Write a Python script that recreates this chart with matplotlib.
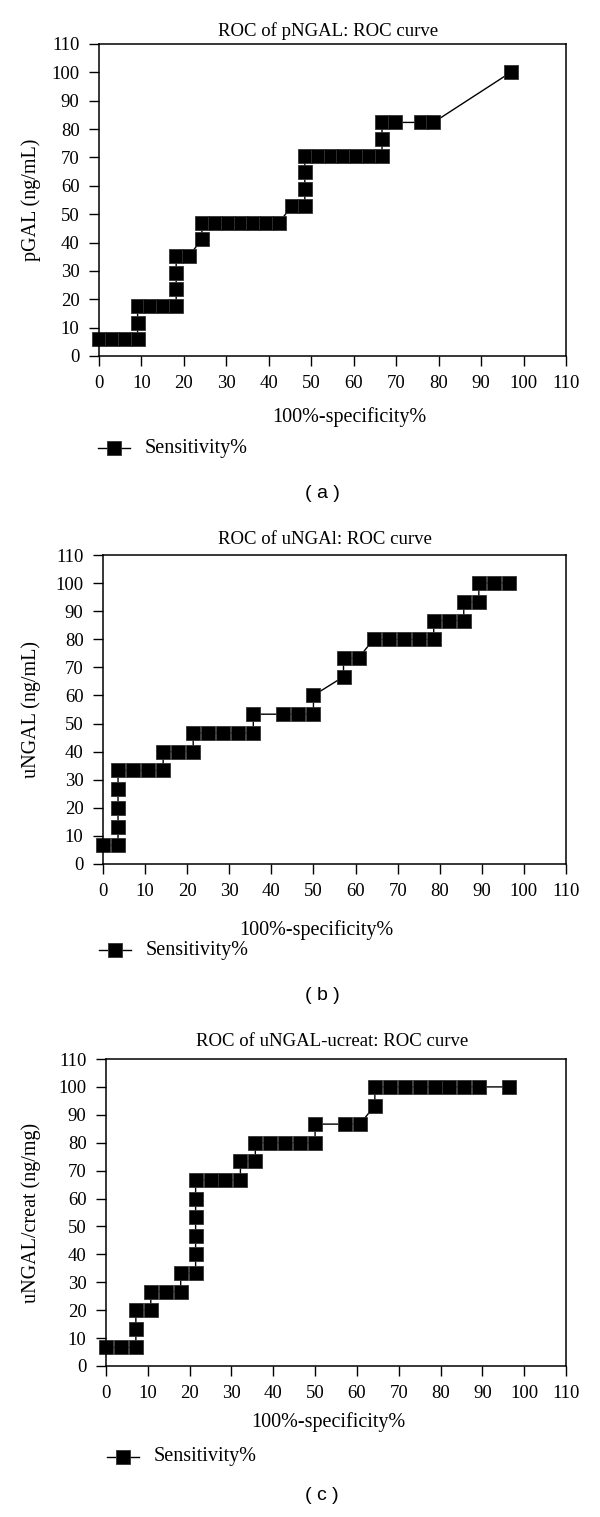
import matplotlib.pyplot as plt

plt.rcParams["font.family"] = ["Liberation Serif", "DejaVu Serif"]

# ----------------------------------------
# data (100%-specificity%, sensitivity%)
# ----------------------------------------
pngal_x = [0, 3.03, 6.06, 9.09, 9.09, 9.09, 12.12, 15.15, 18.18, 18.18, 18.18,
           18.18, 21.21, 24.24, 24.24, 27.27, 30.30, 33.33, 36.36, 39.39, 42.42,
           45.45, 48.48, 48.48, 48.48, 48.48, 51.52, 54.55, 57.58, 60.61, 63.64,
           66.67, 66.67, 66.67, 69.70, 75.76, 78.79, 96.97]
pngal_y = [5.88, 5.88, 5.88, 5.88, 11.76, 17.65, 17.65, 17.65, 17.65, 23.53, 29.41,
           35.29, 35.29, 41.18, 47.06, 47.06, 47.06, 47.06, 47.06, 47.06, 47.06,
           52.94, 52.94, 58.82, 64.71, 70.59, 70.59, 70.59, 70.59, 70.59, 70.59,
           70.59, 76.47, 82.35, 82.35, 82.35, 82.35, 100]

ungal_x = [0, 3.57, 3.57, 3.57, 3.57, 3.57, 7.14, 10.71, 14.29, 14.29, 17.86,
           21.43, 21.43, 25.00, 28.57, 32.14, 35.71, 35.71, 42.86, 46.43, 50.00,
           50.00, 57.14, 57.14, 60.71, 64.29, 67.86, 71.43, 75.00, 78.57, 78.57,
           82.14, 85.71, 85.71, 89.29, 89.29, 92.86, 96.43]
ungal_y = [6.67, 6.67, 13.33, 20.00, 26.67, 33.33, 33.33, 33.33, 33.33, 40.00, 40.00,
           40.00, 46.67, 46.67, 46.67, 46.67, 46.67, 53.33, 53.33, 53.33, 53.33,
           60.00, 66.67, 73.33, 73.33, 80.00, 80.00, 80.00, 80.00, 80.00, 86.67,
           86.67, 86.67, 93.33, 93.33, 100, 100, 100]

ucreat_x = [0, 3.57, 7.14, 7.14, 7.14, 10.71, 10.71, 14.29, 17.86, 17.86, 21.43,
            21.43, 21.43, 21.43, 21.43, 21.43, 25.00, 28.57, 32.14, 32.14, 35.71,
            35.71, 39.29, 42.86, 46.43, 50.00, 50.00, 57.14, 60.71, 64.29, 64.29,
            67.86, 71.43, 75.00, 78.57, 82.14, 85.71, 89.29, 96.43]
ucreat_y = [6.67, 6.67, 6.67, 13.33, 20.00, 20.00, 26.67, 26.67, 26.67, 33.33, 33.33,
            40.00, 46.67, 53.33, 60.00, 66.67, 66.67, 66.67, 66.67, 73.33, 73.33,
            80.00, 80.00, 80.00, 80.00, 80.00, 86.67, 86.67, 86.67, 93.33, 100,
            100, 100, 100, 100, 100, 100, 100, 100]

ticks = [0, 10, 20, 30, 40, 50, 60, 70, 80, 90, 100, 110]

H = 1517.0
W = 600.0

panels = [
    dict(x=pngal_x, y=pngal_y, title="ROC of pNGAL: ROC curve", ylabel="pGAL (ng/mL)",
         left=99, right=566, top=44, bottom=356, title_y=31, title_x=328,
         xlab_y=417, xlab_x=349, leg_y=448, leg_x0=98, tag="( a )", tag_y=493),
    dict(x=ungal_x, y=ungal_y, title="ROC of uNGAl: ROC curve", ylabel="uNGAL (ng/mL)",
         left=103, right=566, top=555, bottom=864, title_y=540, title_x=325,
         xlab_y=930, xlab_x=316, leg_y=950, leg_x0=99, tag="( b )", tag_y=995),
    dict(x=ucreat_x, y=ucreat_y, title="ROC of uNGAL-ucreat: ROC curve",
         ylabel="uNGAL/creat (ng/mg)",
         left=106, right=566, top=1059, bottom=1366, title_y=1041, title_x=332,
         xlab_y=1422, xlab_x=328, leg_y=1457, leg_x0=107, tag="( c )", tag_y=1495),
]

fig = plt.figure(figsize=(6.0, 15.17), dpi=100)

for p in panels:
    w = p["right"] - p["left"]
    ax = fig.add_axes([p["left"] / W, 1 - p["bottom"] / H,
                       w / W, (p["bottom"] - p["top"]) / H])

    ax.plot(p["x"], p["y"], color="black", linewidth=1.0, marker="s",
            markersize=9.6, markerfacecolor="black", markeredgecolor="#333333",
            markeredgewidth=0.6, clip_on=False)

    ax.set_xlim(0, 110)
    ax.set_ylim(0, 110)
    ax.set_xticks(ticks)
    ax.set_yticks(ticks)
    ax.tick_params(direction="out", length=7, width=1.0, labelsize=13.5,
                   top=False, right=False, pad=7)
    for s in ax.spines.values():
        s.set_linewidth(1.1)

    ax.set_ylabel(p["ylabel"], fontsize=14.5)
    ax.yaxis.set_label_coords((41 - p["left"]) / w, 0.5)

    fig.text(p["title_x"] / W, 1 - p["title_y"] / H, p["title"], fontsize=13.5,
             ha="center", va="center")
    fig.text(p["xlab_x"] / W, 1 - p["xlab_y"] / H, "100%-specificity%", fontsize=14.5,
             ha="center", va="center")

    # legend entry
    ly = 1 - p["leg_y"] / H
    fig.lines.append(plt.Line2D([p["leg_x0"] / W, (p["leg_x0"] + 32) / W], [ly, ly],
                                transform=fig.transFigure, color="black", linewidth=1.0))
    fig.lines.append(plt.Line2D([(p["leg_x0"] + 16) / W], [ly], transform=fig.transFigure,
                                marker="s", markersize=9.6, color="black",
                                markeredgecolor="#333333", markeredgewidth=0.6))
    fig.text((p["leg_x0"] + 47) / W, ly, "Sensitivity%", fontsize=14.5, ha="left",
             va="center")

    fig.text(322 / W, 1 - p["tag_y"] / H, p["tag"], fontsize=14, ha="center", va="center",
             family=["Liberation Sans", "DejaVu Sans"])

fig.savefig("out.png", dpi=100)
